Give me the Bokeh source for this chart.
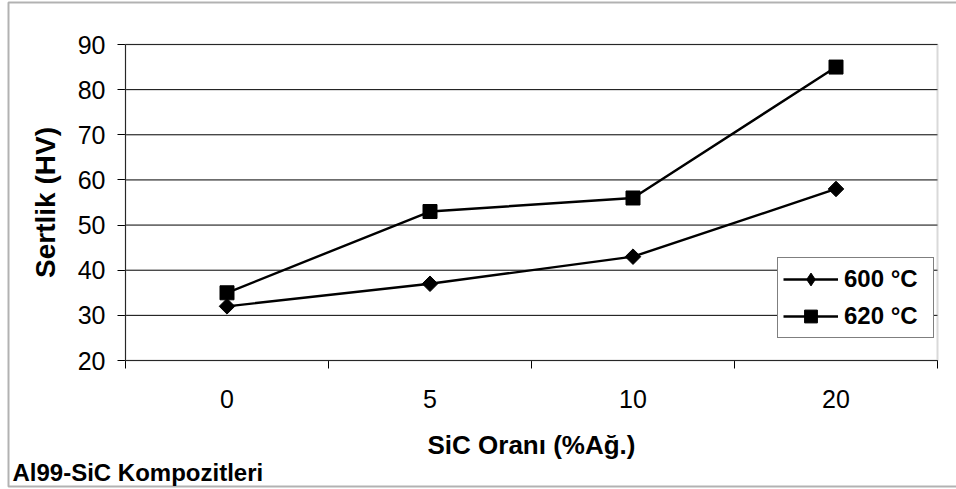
import numpy as np
from bokeh.plotting import figure
from bokeh.models import (Range1d, FixedTicker, Legend, LegendItem, Label, BoxAnnotation)
from bokeh.embed import file_html
from bokeh.resources import INLINE

categories = ["0", "5", "10", "20"]
temp_600 = [32, 37, 43, 58]
temp_620 = [35, 53, 56, 85]
y_ticks = [20, 30, 40, 50, 60, 70, 80, 90]
series_names = ["600 °C", "620 °C"]
x_title = "SiC Oranı (%Ağ.)"
y_title = "Sertlik (HV)"
note_text = "Al99-SiC Kompozitleri"

# layout (pixels)
W, H = 956, 489
AREA_L, AREA_R, AREA_T, AREA_B = 125, 937, 44, 360
FONT = "Liberation Sans"

n = len(categories)
x_pos = [i + 0.5 for i in range(n)]
x_lo, x_hi = 0, n
y_lo, y_hi = y_ticks[0], y_ticks[-1]
xs = (x_hi - x_lo) / (AREA_R - AREA_L)
ys = (y_hi - y_lo) / (AREA_B - AREA_T)

p = figure(width=W, height=H, output_backend="svg", toolbar_location=None,
           x_range=Range1d(x_lo - AREA_L * xs, x_hi + (W - AREA_R) * xs),
           y_range=Range1d(y_lo - (H - AREA_B) * ys, y_hi + AREA_T * ys),
           min_border=0, background_fill_color="white", border_fill_color="white")
p.outline_line_color = None
p.xgrid.visible = False
p.ygrid.visible = False

# horizontal gridlines
p.segment(x0=[x_lo] * len(y_ticks), x1=[x_hi] * len(y_ticks), y0=y_ticks, y1=y_ticks,
          line_color="black", line_width=1)

# x axis
xa = p.xaxis[0]
xa.fixed_location = y_lo
xa.bounds = (x_lo, x_hi)
xa.ticker = FixedTicker(ticks=x_pos, minor_ticks=list(range(n + 1)))
xa.major_label_overrides = {x: c for x, c in zip(x_pos, categories)}
xa.major_tick_out = 0
xa.major_tick_in = 0
xa.minor_tick_out = 8
xa.minor_tick_in = 0
xa.minor_tick_line_color = "black"
xa.axis_line_color = "black"
xa.major_label_text_font = FONT
xa.major_label_text_font_size = "25px"
xa.major_label_text_color = "black"
xa.major_label_standoff = 21
xa.axis_label = x_title
xa.axis_label_text_font = FONT
xa.axis_label_text_font_size = "26px"
xa.axis_label_text_font_style = "bold"
xa.axis_label_text_color = "black"
xa.axis_label_standoff = 19

# y axis
ya = p.yaxis[0]
ya.fixed_location = x_lo
ya.bounds = (y_lo, y_hi)
ya.ticker = FixedTicker(ticks=y_ticks, minor_ticks=[])
ya.major_tick_out = 8
ya.major_tick_in = 0
ya.major_tick_line_color = "black"
ya.axis_line_color = "black"
ya.major_label_text_font = FONT
ya.major_label_text_font_size = "25px"
ya.major_label_text_color = "black"
ya.major_label_standoff = 12
ya.axis_label = y_title
ya.axis_label_text_font = FONT
ya.axis_label_text_font_size = "28px"
ya.axis_label_text_font_style = "bold"
ya.axis_label_text_color = "black"
ya.axis_label_standoff = 14

# plot-area outline (grey top/right)
p.add_layout(BoxAnnotation(left=x_lo, right=x_hi, bottom=y_lo, top=y_hi,
                           fill_alpha=0, line_color="#808080", line_width=2))

l600 = p.line(x_pos, temp_600, line_color="black", line_width=2.4)
# Bokeh diamond (used for the legend), covered by the rotated square on the plot
d600 = p.scatter(x_pos, temp_600, marker="diamond", size=12,
                 fill_color="black", line_color="black")
m600 = p.scatter(x_pos, temp_600, marker="square", angle=np.pi / 4, size=11,
                 fill_color="black", line_color="black")
l620 = p.line(x_pos, temp_620, line_color="black", line_width=2.4)
m620 = p.scatter(x_pos, temp_620, marker="square", size=14,
                 fill_color="black", line_color="black")

legend = Legend(items=[LegendItem(label=series_names[0], renderers=[l600, d600]),
                       LegendItem(label=series_names[1], renderers=[l620, m620])],
                location=(777, 151))
legend.glyph_width = 55
legend.glyph_height = 32
legend.label_height = 32
legend.label_width = 84
legend.spacing = 5
legend.padding = 5
legend.label_standoff = 6
legend.label_text_font = FONT
legend.label_text_font_size = "24px"
legend.label_text_font_style = "bold"
legend.label_text_color = "black"
legend.border_line_color = "black"
legend.border_line_width = 1
legend.background_fill_color = "white"
legend.background_fill_alpha = 1
p.add_layout(legend)

# outer chart border
p.add_layout(BoxAnnotation(left=8, right=W + 20, top=2, bottom=486,
                           left_units="canvas", right_units="canvas",
                           top_units="canvas", bottom_units="canvas",
                           fill_alpha=0, line_color="black", line_width=2))

p.add_layout(Label(x=12, y=472, x_units="canvas", y_units="canvas", text=note_text,
                   text_font=FONT, text_font_size="24px", text_font_style="bold",
                   text_color="black", text_baseline="alphabetic"))

open("out.html", "w").write(file_html(p, INLINE))
